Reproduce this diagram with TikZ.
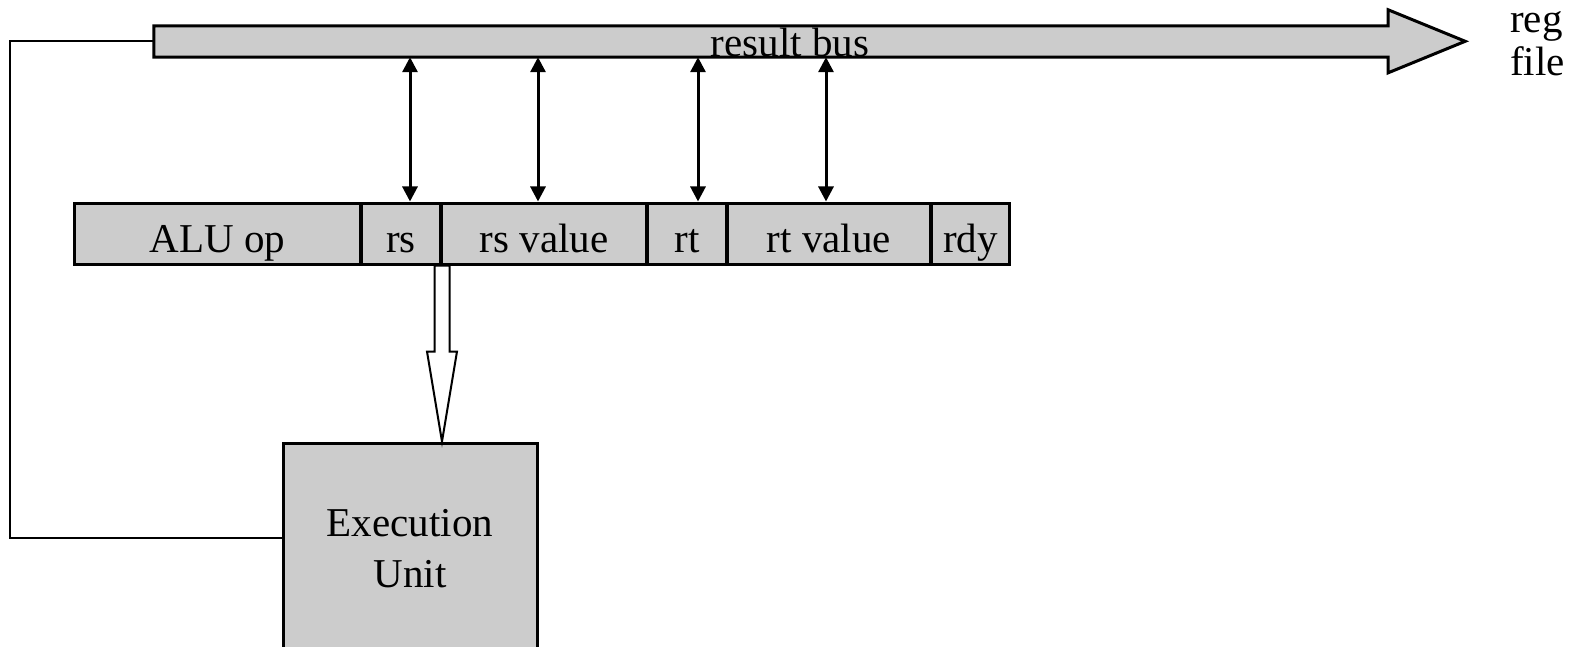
\documentclass[tikz,border=0pt]{standalone}
\usepackage{fontspec}
\setmainfont{Liberation Serif}
\usetikzlibrary{arrows.meta}
\definecolor{panel}{HTML}{CCCCCC}
\begin{document}
\begin{tikzpicture}[x=1pt,y=-1pt,
  bigfont/.style={font=\fontsize{41}{43}\selectfont},
  cell/.style={draw, line width=3pt, fill=panel, minimum height=61pt,
    inner sep=0pt, text height=37pt, text depth=0pt, bigfont},
  dbl/.style={{Triangle[length=15pt,width=15pt]}-{Triangle[length=15pt,width=15pt]},
    line width=3pt},
  wire/.style={line width=2pt},
  hollow/.style={line width=2pt, fill=white, line join=miter}]
\useasboundingbox (0,0) rectangle (1581,647);
\clip (0,0) rectangle (1581,647);

% result bus: body rectangle as a node, arrow outline drawn around it
\node[inner sep=0pt, minimum width=1234pt, minimum height=31pt] (bus) at (771,41.5) {};

% execution unit (runs off the lower edge)
\node[draw, line width=3pt, fill=panel, minimum width=254pt, minimum height=212pt,
  inner sep=0pt, align=center, font=\fontsize{41}{51}\selectfont] (exu) at (410,549)
  {Execution\\Unit};

% feedback wire from the execution unit back to the bus
\coordinate (lp) at (10,538);
\draw[wire] (bus.west) -| (lp) -- (lp -| exu.west);

\draw[line width=3pt, fill=panel, line join=miter]
  (bus.south west) -- (bus.north west) -- (bus.north east) -- ++(0,-16)
  -- ++(77,31.5) -- ++(-77,31.5) -- (bus.south east) -- cycle;

% reservation station entry fields
\node[cell, minimum width=286pt] (aluop) at (217.5,233.5) {ALU op};
\node[cell, minimum width=79pt]  (rs)    at (401,233.5)   {rs};
\node[cell, minimum width=205pt] (rsval) at (544,233.5)   {rs value};
\node[cell, minimum width=79pt]  (rt)    at (687,233.5)   {rt};
\node[cell, minimum width=203pt] (rtval) at (829,233.5)   {rt value};
\node[cell, minimum width=78pt]  (rdy)   at (970.5,233.5) {rdy};

% bus taps
\coordinate (t1) at ([xshift=9pt]rs.north);
\coordinate (t2) at ([xshift=-6pt]rsval.north);
\coordinate (t3) at ([xshift=11pt]rt.north);
\coordinate (t4) at ([xshift=-3pt]rtval.north);
\draw[dbl] (t1 |- bus.south) -- (t1);
\draw[dbl] (t2 |- bus.south) -- (t2);
\draw[dbl] (t3 |- bus.south) -- (t3);
\draw[dbl] (t4 |- bus.south) -- (t4);

% hollow arrow from the entry into the execution unit
\coordinate (tip) at (rs.south east |- exu.north);
\draw[hollow] ([xshift=-7.5pt]rs.south east)
  -- ([xshift=-7.5pt,yshift=90pt]tip) -- ([xshift=-15pt,yshift=90pt]tip)
  -- (tip)
  -- ([xshift=15pt,yshift=90pt]tip) -- ([xshift=7.5pt,yshift=90pt]tip)
  -- ([xshift=7.5pt]rs.south east) -- cycle;

% labels
\node[bigfont, anchor=base, inner sep=0pt] (buslabel) at (790,57) {result bus};
\node[anchor=base west, align=left, inner sep=0pt,
  font=\fontsize{41}{43}\selectfont] (regfile) at (1510,76) {reg\\file};
\end{tikzpicture}
\end{document}
